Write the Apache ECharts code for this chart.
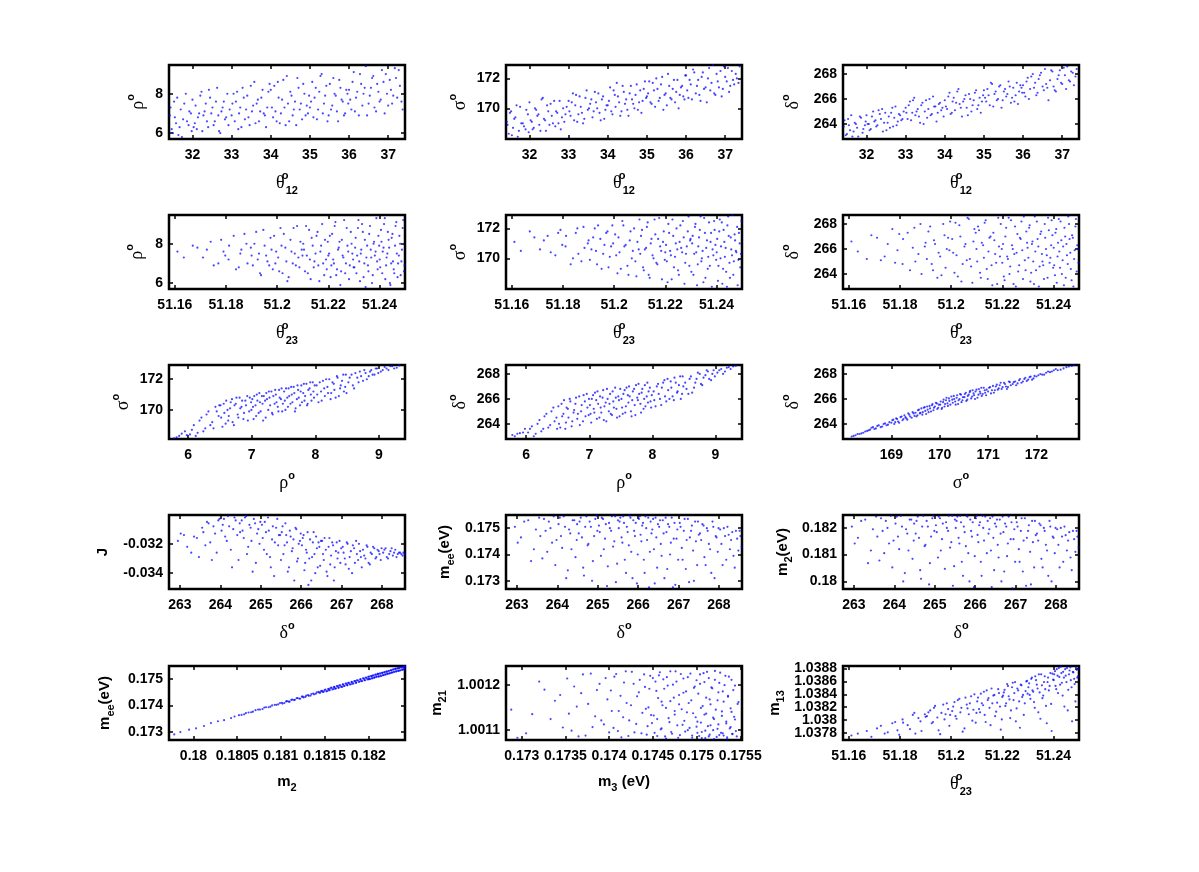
<!DOCTYPE html>
<html>
<head>
<meta charset="utf-8">
<title>Parameter correlations</title>
<script src="https://cdn.jsdelivr.net/npm/echarts@6.0.0/dist/echarts.min.js"></script>
<style>
  html, body { margin: 0; padding: 0; background: #fff; }
  #chart { width: 1199px; height: 872px; }
</style>
</head>
<body>
<div id="chart"></div>
<script>
// ---- theta12 group (row 1), two batches ----
var theta12 = [31.42,31.47,31.53,31.58,31.64,31.7,31.76,31.83,31.9,31.96,
  32.03,32.08,32.14,32.2,32.25,32.31,32.37,32.42,32.48,32.54,32.6,32.66,32.71,32.77,32.83,32.89,32.95,
  33.02,33.08,33.14,33.19,33.25,33.31,33.37,33.43,33.49,33.55,33.61,33.67,33.73,33.79,33.85,33.91,33.97,
  34.03,34.09,34.15,34.2,34.26,34.32,34.38,34.44,34.5,34.56,34.62,34.68,34.74,34.8,34.86,34.92,34.98,
  35.03,35.09,35.15,35.21,35.27,35.33,35.39,35.45,35.51,35.57,35.63,35.69,35.75,35.81,35.87,35.93,35.98,
  36.03,36.09,36.15,36.21,36.28,36.34,36.4,36.46,36.53,36.59,36.65,36.72,36.78,36.84,36.91,36.97,37.04,37.1,37.17,37.23,37.3,37.37];
var rhoA = [6.9,6.2,7.6,6.5,5.9,7.2,6.7,8.0,6.4,7.0,
  6.3,7.4,6.8,7.9,6.1,7.1,6.6,8.2,7.0,6.4,7.6,6.9,6.0,7.3,6.7,8.0,7.2,
  7.5,6.6,8.1,7.0,6.3,7.8,7.2,6.8,8.4,7.4,6.5,7.7,7.1,8.2,6.9,7.3,8.5,
  7.3,8.4,6.6,7.8,7.0,8.7,6.4,7.5,8.1,6.9,7.6,8.8,7.2,6.7,8.0,7.4,7.9,
  7.6,6.8,8.3,7.2,8.9,7.0,7.9,6.6,8.5,7.4,8.0,7.1,8.7,7.7,6.9,8.2,7.5,
  7.7,8.6,7.1,8.1,9.0,7.4,8.3,6.9,7.9,8.8,7.3,8.5,7.6,9.2,7.0,8.0,8.7,7.5,9.3,7.8,8.4,7.2];
var sigmaA = [169.1,168.3,169.8,168.7,169.4,168.1,170.1,169.0,168.6,169.6,
  169.2,168.6,170.0,169.5,168.9,170.6,169.3,168.5,169.8,170.3,169.0,168.8,169.7,170.5,169.4,169.1,170.1,
  169.8,170.4,169.2,170.9,169.6,170.1,169.0,170.7,169.9,170.3,169.4,171.1,170.0,169.7,170.6,169.3,170.2,
  170.5,169.8,171.2,170.1,170.8,169.5,171.5,170.3,169.9,171.0,170.6,170.0,171.6,170.4,169.7,171.3,170.7,
  171.0,170.4,171.7,170.1,171.3,170.7,172.1,170.9,170.2,171.5,170.6,171.9,171.1,170.0,171.4,170.8,172.2,
  171.2,171.9,170.6,172.4,171.5,170.9,172.1,171.3,170.4,172.7,171.7,171.0,172.3,171.4,170.8,172.8,171.8,171.1,172.5,171.6,172.0,172.8];
var deltaA = [263.8,263.1,264.4,263.5,263.0,264.1,263.7,264.6,263.3,263.9,
  264.0,263.5,264.6,264.2,263.8,265.1,264.4,263.4,264.9,264.1,263.7,265.3,264.5,263.9,264.8,264.3,265.0,
  264.9,265.5,264.3,265.9,264.7,265.2,264.1,265.7,265.0,264.5,266.0,264.8,265.4,264.2,265.6,265.1,264.6,
  265.4,266.2,264.8,265.8,265.1,266.6,265.6,264.6,266.0,265.3,266.4,265.0,265.9,266.7,265.5,264.9,266.3,
  266.1,266.8,265.5,267.2,266.4,265.9,267.0,265.3,266.6,266.2,267.4,265.7,266.9,266.3,265.6,267.1,266.5,
  266.5,267.4,266.0,267.8,266.9,266.3,267.6,268.1,266.7,267.2,265.9,268.3,267.0,266.6,267.9,267.3,268.5,266.8,267.5,268.2,267.1,268.4];
var theta12b = [31.44,31.5,31.55,31.61,31.67,31.73,31.79,31.86,31.92,31.98,
  32.0,32.06,32.11,32.17,32.23,32.28,32.34,32.4,32.45,32.51,32.57,32.63,32.68,32.74,32.8,32.86,32.92,
  33.0,33.05,33.11,33.17,33.22,33.28,33.34,33.4,33.46,33.52,33.58,33.64,33.7,33.76,33.82,33.88,33.94,
  34.0,34.06,34.12,34.18,34.23,34.29,34.35,34.41,34.47,34.53,34.59,34.65,34.71,34.77,34.83,34.89,34.95,
  35.0,35.06,35.12,35.18,35.24,35.3,35.36,35.42,35.48,35.54,35.6,35.66,35.72,35.78,35.84,35.9,35.96,
  36.0,36.06,36.12,36.18,36.25,36.31,36.37,36.43,36.5,36.56,36.62,36.69,36.75,36.81,36.88,36.94,37.0,37.07,37.13,37.2,37.27,37.34];
var rhoAb = [7.3,6.0,6.8,7.8,6.3,5.8,7.5,6.6,7.1,6.1,
  7.7,6.5,6.2,7.0,8.1,6.9,7.5,6.3,7.8,7.3,6.6,8.3,6.1,7.1,7.6,6.8,6.4,
  6.9,8.0,7.6,6.2,7.3,8.3,6.7,7.9,6.4,7.1,8.6,7.5,6.6,7.8,7.0,6.3,8.1,
  8.2,6.8,7.1,8.6,6.5,7.7,7.3,8.9,6.6,7.9,7.2,6.4,8.3,7.5,8.5,6.9,7.0,
  7.3,8.6,7.8,6.7,8.1,9.0,7.5,8.4,6.9,7.2,8.8,7.9,6.6,8.3,7.6,7.0,8.0,
  8.2,7.2,9.1,7.8,6.9,8.5,8.0,9.4,7.5,8.3,8.9,7.1,8.1,7.7,8.6,9.0,7.4,8.2,7.9,8.8,9.2,7.6];
var sigmaAb = [168.9,169.7,168.2,169.3,170.2,168.5,169.0,168.8,169.9,168.4,
  170.4,169.1,168.7,169.9,169.6,168.5,170.7,169.2,170.2,168.9,169.5,170.5,169.8,169.0,168.6,170.0,169.6,
  170.5,169.5,171.0,170.2,169.1,170.8,169.7,169.3,171.2,170.0,170.6,169.8,170.4,171.0,169.2,170.8,169.9,
  170.2,171.4,169.6,170.9,171.7,170.4,169.8,171.1,170.6,169.5,171.5,170.3,170.9,169.9,171.2,170.5,171.8,
  170.8,171.8,170.3,171.2,172.0,170.5,171.6,169.9,171.0,172.3,170.7,171.3,170.4,171.9,170.9,171.5,170.6,
  172.2,170.7,171.6,172.6,171.0,171.9,170.5,172.4,171.4,172.0,171.2,172.9,170.9,171.8,172.5,171.3,172.1,172.7,171.5,171.9,172.3,171.7];
var deltaAb = [264.3,263.2,263.9,264.7,263.4,264.0,263.0,264.5,263.6,264.2,
  264.7,264.0,263.6,265.0,264.3,263.9,264.8,265.2,264.1,263.5,264.6,264.9,263.8,265.4,264.2,264.7,264.4,
  265.3,264.4,265.8,264.9,266.1,265.0,264.6,265.5,264.0,265.9,265.2,264.7,266.2,265.4,264.9,265.7,265.3,
  265.9,265.2,266.5,264.9,266.1,265.7,266.8,265.3,265.8,266.3,264.7,266.0,265.5,266.5,265.2,266.1,265.8,
  266.7,265.8,266.3,267.3,265.4,266.6,266.0,267.1,265.9,266.8,266.4,267.0,266.1,265.8,267.3,266.6,266.9,
  267.1,266.2,267.7,266.8,268.0,267.3,266.5,267.9,267.0,268.4,266.9,267.5,268.2,266.7,267.6,268.3,267.2,267.9,268.6,267.4,268.1,267.8];

// ---- theta23 group (row 2 and the m13 panel) ----
var theta23 = [51.161,51.167,
  51.171,51.174,51.177,51.179,
  51.181,51.183,51.185,51.186,51.188,51.19,
  51.1905,51.1918,51.1929,51.1937,51.1951,51.1962,51.1974,51.1983,51.1996,
  51.2004,51.2013,51.2021,51.2032,51.204,51.2052,51.2061,51.2069,51.2078,51.2087,51.2096,
  51.2102,51.2109,51.2116,51.2125,51.2131,51.2139,51.2146,51.2154,51.2161,51.2169,51.2176,51.2184,51.2191,51.2198,
  51.2203,51.2209,51.2215,51.2222,51.2228,51.2234,51.2241,51.2247,51.2253,51.2259,51.2266,51.2272,51.2278,51.2284,51.2291,51.2297,
  51.2302,51.2307,51.2313,51.2318,51.2324,51.2329,51.2335,51.2341,51.2346,51.2352,51.2357,51.2363,51.2368,51.2374,51.2379,51.2385,51.2391,51.2396,
  51.2401,51.2406,51.2411,51.2416,51.2421,51.2426,51.2431,51.2436,51.2441,51.2446,51.2451,51.2456,51.2461,51.2466,51.2471,51.2476,51.2481,51.2486,51.2491,51.2496];
var rhoB = [7.6,7.9,
  7.3,8.1,7.0,7.6,
  7.2,8.4,6.8,7.7,8.0,7.4,
  6.9,8.6,7.5,6.4,7.9,7.1,8.3,6.7,7.6,
  7.3,8.8,6.5,7.8,6.1,8.2,7.0,7.5,8.9,6.8,7.7,
  8.0,6.6,7.4,8.7,6.2,7.9,7.1,8.4,6.9,7.6,9.0,6.4,7.2,8.1,
  7.5,6.3,8.5,7.0,9.1,6.7,7.8,5.9,8.2,7.3,6.5,8.8,7.6,6.9,8.0,7.2,
  6.8,8.3,7.4,9.2,6.1,7.7,8.6,7.0,5.8,7.9,6.6,8.9,7.3,6.4,8.1,7.6,7.1,8.4,
  7.2,8.7,6.5,7.8,9.3,6.9,7.5,8.2,6.0,7.0,8.5,6.7,7.9,9.1,6.3,7.4,8.0,7.1,8.8,6.6];
var sigmaB = [171.1,171.8,
  170.6,171.5,170.2,171.9,
  170.8,169.6,171.7,170.3,172.1,171.2,
  169.9,171.4,170.5,172.2,169.3,170.9,171.8,170.1,171.0,
  171.6,169.0,170.4,172.5,170.8,169.5,171.2,170.0,172.0,168.8,170.6,
  170.3,171.9,169.2,170.7,172.4,168.7,171.3,170.0,171.6,169.6,172.7,170.5,171.1,169.9,
  170.9,168.4,171.7,170.2,172.6,169.4,171.0,170.6,168.9,172.2,170.4,171.4,169.7,170.8,172.8,171.2,
  169.1,171.5,170.3,172.3,168.2,170.8,171.9,169.8,170.5,172.7,168.7,171.2,170.1,169.5,171.7,170.6,172.5,170.9,
  170.4,168.5,171.8,170.0,172.4,169.3,171.1,170.7,168.1,172.8,169.7,171.4,170.2,168.9,171.6,170.5,172.1,169.9,171.0,170.3];
var deltaB = [266.6,265.2,
  266.9,265.4,267.6,265.9,
  264.8,267.3,266.1,265.0,268.0,266.5,
  265.2,267.8,264.3,266.4,265.7,263.9,267.1,266.0,268.2,
  266.8,264.1,265.5,267.9,263.4,266.2,265.1,268.4,264.6,266.6,267.3,
  265.0,267.5,263.7,266.3,268.1,264.4,265.8,267.0,263.1,266.7,264.9,268.5,265.4,266.0,
  266.4,263.5,267.7,265.2,264.0,268.3,266.0,265.6,263.0,267.2,264.7,266.8,265.9,268.6,264.3,266.5,
  265.3,267.9,264.1,266.6,263.2,265.8,268.2,266.2,264.6,267.4,265.0,263.6,266.9,265.5,268.5,264.9,266.3,267.1,
  266.1,263.9,267.6,265.4,268.4,264.5,266.7,265.1,263.1,267.0,266.4,264.8,268.0,265.7,263.5,266.9,265.2,267.8,264.2,266.0];
var m13B = [1.03776,1.03783,
  1.03787,1.03779,1.03795,1.03784,
  1.03801,1.03792,1.03808,1.03779,1.03798,1.03805,
  1.03806,1.03815,1.03797,1.03822,1.03784,1.03811,1.03801,1.03826,1.03808,
  1.03814,1.03828,1.03802,1.03833,1.03819,1.03787,1.03824,1.03809,1.03837,1.03816,1.03796,
  1.03829,1.03817,1.03841,1.03823,1.03808,1.03846,1.03834,1.03792,1.03826,1.03839,1.03813,1.03848,1.03821,1.03801,
  1.03838,1.03847,1.03826,1.03853,1.03832,1.03815,1.03858,1.03842,1.03798,1.03849,1.03829,1.03855,1.03836,1.03808,1.03845,1.03861,
  1.03851,1.03839,1.03864,1.03846,1.03828,1.03868,1.03855,1.03812,1.03843,1.03871,1.03834,1.03859,1.03848,1.03795,1.03866,1.03853,1.03825,1.03872,
  1.03862,1.03876,1.03848,1.03869,1.03881,1.03855,1.03873,1.03838,1.03866,1.03879,1.03859,1.03815,1.03871,1.03882,1.03851,1.03875,1.03864,1.03829,1.03878,1.03868];
var theta23b = [51.1635,51.1688,
  51.1725,51.1752,51.1781,51.1797,
  51.1812,51.1839,51.1856,51.1872,51.1884,51.1897,
  51.1911,51.1924,51.1933,51.1946,51.1957,51.1969,51.1978,51.1988,51.1993,
  51.2008,51.2017,51.2026,51.2036,51.2045,51.2056,51.2064,51.2073,51.2083,51.2091,51.2099,
  51.2105,51.2113,51.212,51.2128,51.2135,51.2143,51.215,51.2158,51.2165,51.2172,51.218,51.2187,51.2194,51.22,
  51.2206,51.2212,51.2219,51.2225,51.2231,51.2238,51.2244,51.225,51.2256,51.2262,51.2269,51.2275,51.2281,51.2288,51.2294,51.2299,
  51.2305,51.231,51.2316,51.2321,51.2327,51.2332,51.2338,51.2343,51.2349,51.2355,51.236,51.2366,51.2371,51.2377,51.2382,51.2388,51.2393,51.2399,
  51.2403,51.2408,51.2413,51.2418,51.2423,51.2428,51.2433,51.2438,51.2443,51.2448,51.2453,51.2458,51.2463,51.2468,51.2473,51.2478,51.2483,51.2488,51.2493,51.2498];
var rhoBb = [7.3,7.8,
  7.7,6.9,8.2,7.4,
  7.9,6.7,7.5,8.5,7.0,7.8,
  8.0,7.2,6.5,8.7,7.4,6.9,7.7,8.4,7.0,
  6.6,7.9,8.5,7.1,6.3,7.6,8.8,6.9,7.3,8.1,7.4,
  7.7,8.9,6.5,7.2,8.3,6.8,7.5,8.6,6.1,7.9,7.0,8.2,6.7,7.4,
  8.4,6.9,7.2,8.9,6.4,7.7,8.1,6.6,7.4,9.2,7.0,7.9,6.2,8.6,7.5,6.8,
  7.8,6.5,8.8,7.1,7.5,9.0,6.3,8.2,7.3,6.9,8.5,7.7,6.0,8.0,7.4,9.3,6.7,7.9,
  6.8,8.1,7.6,9.0,6.2,7.3,8.6,7.8,5.9,8.3,7.1,6.5,8.9,7.5,7.0,8.4,6.4,7.7,9.2,6.9];
var sigmaBb = [170.5,171.4,
  171.2,170.4,171.7,170.9,
  171.5,170.0,172.0,169.8,170.7,171.0,
  170.6,172.0,169.6,171.3,170.3,171.7,169.4,170.8,172.2,
  170.2,171.4,169.3,172.2,170.9,168.9,171.8,170.5,169.8,171.1,172.6,
  171.5,169.4,170.6,172.1,168.9,171.0,170.2,172.6,169.7,171.3,170.8,168.6,171.8,170.4,
  169.8,172.3,170.5,168.6,171.5,170.1,172.0,169.2,171.1,170.7,172.5,168.3,170.3,171.8,169.5,171.3,
  171.0,168.9,172.1,170.4,169.6,171.4,172.8,170.0,168.4,171.7,170.7,169.3,172.4,171.1,168.1,170.2,171.9,169.9,
  171.3,169.5,172.6,170.8,168.3,171.9,170.1,169.1,172.2,171.5,168.7,170.6,172.9,169.8,171.2,170.4,168.2,171.7,169.4,172.5];
var deltaBb = [265.8,267.1,
  265.1,266.4,264.9,267.2,
  266.8,264.3,267.7,265.6,264.0,266.2,
  267.4,264.8,266.7,263.7,265.4,268.0,264.5,266.9,265.9,
  265.7,268.1,263.8,267.0,264.8,266.4,268.5,265.2,263.3,267.6,266.0,
  267.8,264.1,266.5,265.3,268.3,263.6,266.9,264.7,267.3,265.6,263.2,266.2,268.0,264.9,
  263.8,267.0,265.4,268.5,264.6,266.3,263.2,267.8,265.7,264.2,266.9,268.2,263.6,265.1,267.4,266.1,
  267.7,263.4,266.4,265.0,268.6,264.3,266.8,263.0,267.2,265.6,264.7,268.0,266.0,263.7,267.5,265.3,268.3,264.5,
  264.7,267.3,263.3,266.5,265.8,268.2,264.0,266.2,267.7,263.7,265.5,268.6,266.8,264.4,267.1,263.0,265.9,268.4,266.3,264.9];
var m13Bb = [1.03779,1.03774,
  1.03791,1.03781,1.03797,1.03777,
  1.03796,1.03786,1.03811,1.03803,1.03783,1.03809,
  1.03812,1.03795,1.03819,1.03804,1.03778,1.03824,1.03809,1.03817,1.03791,
  1.03821,1.03806,1.03831,1.03812,1.03782,1.03835,1.03818,1.03826,1.03799,1.0384,1.03811,
  1.03835,1.03812,1.03826,1.03844,1.03797,1.03831,1.03819,1.03849,1.03838,1.03806,1.03827,1.03842,1.03785,1.03836,
  1.03843,1.03822,1.03856,1.03837,1.03803,1.03851,1.03831,1.03859,1.03818,1.03846,1.03788,1.03854,1.03839,1.03826,1.0386,1.03841,
  1.03857,1.03833,1.03866,1.03844,1.03819,1.03862,1.03849,1.03871,1.03802,1.03854,1.03838,1.03868,1.03822,1.03859,1.03846,1.03873,1.03783,1.03863,
  1.03871,1.03853,1.03879,1.03842,1.03867,1.03883,1.03858,1.03875,1.03821,1.03869,1.03881,1.03847,1.03877,1.03862,1.03798,1.03874,1.03856,1.03882,1.03866,1.03879];

// ---- rho group (row 3, first two panels) ----
var rhoD = [5.78,5.86,5.95,
  6.03,6.09,6.15,6.21,6.27,6.32,6.38,6.43,6.48,
  6.51,6.54,6.57,6.6,6.63,6.66,6.69,6.72,6.75,6.78,6.81,6.84,6.87,6.9,6.93,6.96,6.99,
  7.01,7.03,7.06,7.08,7.11,7.13,7.16,7.18,7.21,7.23,7.26,7.28,7.31,7.33,7.36,7.38,7.41,7.43,7.46,7.48,
  7.51,7.53,7.56,7.58,7.61,7.63,7.66,7.68,7.71,7.73,7.76,7.78,7.81,7.83,7.86,7.88,7.91,7.93,7.96,7.98,
  8.02,8.05,8.09,8.12,8.15,8.19,8.22,8.25,8.29,8.32,8.35,8.39,8.42,8.45,8.48,
  8.52,8.57,8.61,8.66,8.7,8.75,8.79,8.84,8.88,8.93,8.97,
  9.03,9.09,9.15,9.21,9.28];
var sigmaD = [168.15,168.3,168.6,
  168.4,169.0,168.5,169.5,168.8,169.9,169.2,170.2,169.6,
  170.3,168.9,169.8,170.6,169.3,170.1,170.7,169.0,170.4,169.7,170.8,170.2,169.4,170.6,170.9,169.9,170.5,
  170.7,169.4,170.3,171.0,169.8,170.5,170.9,169.3,170.6,171.1,170.0,170.8,171.2,169.7,170.4,171.0,170.2,171.3,170.7,169.9,
  171.2,170.0,170.8,171.4,170.4,171.0,171.5,169.9,170.7,171.3,170.3,171.6,171.1,170.6,171.7,170.4,171.4,171.0,171.8,170.8,
  171.6,170.5,171.2,171.9,170.9,171.5,172.0,171.1,171.7,170.8,172.1,171.4,171.9,171.2,172.3,
  171.8,172.3,171.4,172.1,172.5,171.9,172.4,172.2,172.6,172.3,172.7,
  172.5,172.8,172.6,172.85,172.75];
var deltaD = [263.1,263.2,263.3,
  263.3,263.8,263.2,264.3,263.6,264.8,263.9,265.3,264.5,
  265.4,263.7,264.6,265.9,264.1,265.2,266.0,263.8,264.9,265.6,264.4,266.2,265.0,264.2,265.8,266.4,264.7,
  265.5,264.1,266.3,264.9,265.9,266.6,264.5,265.3,266.1,264.3,265.7,266.8,265.0,266.4,264.7,265.8,266.9,265.2,266.2,264.6,
  266.0,264.8,266.7,265.4,266.3,267.0,265.0,265.9,266.8,264.7,266.1,267.2,265.6,266.5,265.2,267.1,266.2,265.7,266.9,265.3,
  266.6,265.4,267.2,266.0,266.9,267.5,265.8,266.7,267.4,266.2,267.7,266.5,267.1,266.0,267.8,
  267.3,266.4,267.8,266.9,267.6,268.0,267.1,267.9,268.2,267.5,268.3,
  268.1,268.4,268.2,268.55,268.6];
var rhoDb = [5.82,5.9,5.98,
  6.06,6.12,6.18,6.24,6.29,6.35,6.4,6.45,6.49,
  6.52,6.56,6.59,6.62,6.64,6.67,6.7,6.73,6.76,6.79,6.82,6.85,6.88,6.91,6.94,6.97,6.995,
  7.02,7.04,7.07,7.09,7.12,7.14,7.17,7.19,7.22,7.24,7.27,7.29,7.32,7.34,7.37,7.39,7.42,7.44,7.47,7.49,
  7.52,7.54,7.57,7.59,7.62,7.64,7.67,7.69,7.72,7.74,7.77,7.79,7.82,7.84,7.87,7.89,7.92,7.94,7.97,7.99,
  8.03,8.07,8.1,8.14,8.17,8.2,8.24,8.27,8.3,8.34,8.37,8.4,8.44,8.47,8.49,
  8.54,8.59,8.63,8.68,8.72,8.77,8.81,8.86,8.9,8.95,8.99,
  9.06,9.12,9.18,9.24,9.32];
var sigmaDb = [168.2,168.45,168.35,
  168.7,168.3,169.3,168.6,169.7,169.0,168.8,169.9,170.3,
  169.5,170.4,169.1,170.0,169.6,170.5,169.2,170.3,170.8,169.5,170.1,170.6,169.8,170.3,169.3,170.8,170.0,
  170.2,170.9,169.6,170.6,171.1,169.9,170.4,170.9,169.5,170.7,171.2,170.3,169.8,170.9,171.3,170.5,169.9,170.8,171.4,170.4,
  170.6,171.4,170.2,170.9,171.5,170.5,171.1,170.1,171.6,170.8,171.2,170.5,171.7,170.9,170.3,171.3,171.8,170.6,171.2,171.6,
  171.0,171.8,170.6,171.4,172.0,171.1,170.7,171.8,171.3,172.2,170.9,171.6,172.3,171.5,171.1,
  172.1,171.6,172.4,171.8,172.2,172.6,172.0,172.5,172.3,172.7,172.4,
  172.6,172.7,172.85,172.7,172.9];
var deltaDb = [263.0,263.25,263.6,
  263.6,263.0,264.0,263.4,264.6,263.7,265.0,264.2,263.6,
  264.0,265.6,264.8,263.6,265.3,264.5,265.8,264.2,265.1,266.1,264.8,263.9,265.5,266.3,264.6,265.3,266.0,
  264.8,266.0,265.2,266.5,264.4,265.6,266.2,264.9,266.7,265.4,264.2,266.0,265.6,264.8,266.6,265.3,266.1,264.5,265.9,266.8,
  265.3,266.4,264.9,266.9,265.7,266.2,264.6,266.6,265.5,267.1,265.9,266.4,264.9,266.8,266.0,265.4,267.3,266.6,265.8,266.3,
  265.9,267.0,266.4,265.5,267.3,266.2,267.6,266.0,266.9,265.9,267.3,266.6,267.8,266.4,267.0,
  266.8,267.6,266.5,267.3,268.1,267.2,267.7,268.3,267.6,268.0,267.8,
  268.3,268.0,268.5,268.4,268.65];

// ---- sigma vs delta (row 3, third panel) ----
var sigmaE = [168.22,168.3,168.38,168.46,
  168.53,168.59,168.65,168.71,168.78,168.84,168.9,168.96,
  169.02,169.06,169.1,169.14,169.19,169.23,169.27,169.31,169.35,169.39,169.44,169.48,
  169.52,169.55,169.59,169.62,169.65,169.69,169.72,169.75,169.79,169.82,169.85,169.88,169.92,169.95,169.98,
  170.02,170.05,170.08,170.11,170.14,170.17,170.2,170.24,170.27,170.3,170.33,170.36,170.39,170.42,170.45,170.48,
  170.52,170.55,170.58,170.62,170.65,170.68,170.71,170.74,170.78,170.81,170.84,170.87,170.91,170.94,170.97,
  171.02,171.06,171.1,171.14,171.18,171.22,171.26,171.3,171.35,171.39,171.43,171.47,
  171.53,171.58,171.64,171.69,171.75,171.8,171.86,171.91,171.96,
  172.04,172.12,172.2,172.28,172.36,172.44,
  172.56,172.67,172.78];
var deltaE = [263.05,263.2,263.25,263.4,
  263.5,263.7,263.6,263.85,263.75,264.0,263.9,264.15,
  264.3,264.0,264.45,264.2,264.55,264.3,264.7,264.45,264.85,264.6,264.95,264.65,
  264.6,265.1,264.85,265.25,264.95,265.35,264.8,265.15,265.45,265.0,265.6,265.3,265.7,265.2,265.55,
  265.8,265.3,265.95,265.6,266.1,265.45,265.85,266.2,265.7,266.0,265.55,266.3,265.9,266.4,265.75,266.15,
  266.4,265.85,266.25,266.55,266.05,266.7,266.3,266.6,266.1,266.8,266.45,266.25,266.9,266.5,266.75,
  266.9,266.45,267.05,266.7,267.15,266.85,267.3,266.95,267.2,266.8,267.4,267.1,
  267.35,267.1,267.5,267.3,267.6,267.45,267.75,267.55,267.85,
  267.9,267.95,268.1,268.15,268.3,268.3,
  268.45,268.6,268.7];
var sigmaEb = [168.18,168.26,168.34,168.42,
  168.5,168.56,168.62,168.68,168.74,168.81,168.87,168.93,
  169.0,169.04,169.08,169.12,169.16,169.21,169.25,169.29,169.33,169.37,169.42,169.46,
  169.5,169.54,169.57,169.6,169.64,169.67,169.7,169.74,169.77,169.8,169.84,169.87,169.9,169.94,169.97,
  170.01,170.04,170.07,170.1,170.13,170.16,170.19,170.22,170.26,170.29,170.32,170.35,170.38,170.41,170.44,170.47,
  170.51,170.54,170.57,170.6,170.63,170.67,170.7,170.73,170.76,170.8,170.83,170.86,170.89,170.93,170.96,
  171.0,171.04,171.08,171.12,171.16,171.2,171.24,171.28,171.33,171.37,171.41,171.45,
  171.51,171.56,171.61,171.66,171.72,171.77,171.83,171.88,171.94,
  172.0,172.08,172.16,172.24,172.32,172.4,
  172.5,172.62,172.73];
var deltaEb = [263.0,263.1,263.2,263.3,
  263.45,263.55,263.75,263.65,263.9,263.8,264.05,263.95,
  264.1,264.35,264.15,264.4,264.1,264.6,264.4,264.55,264.35,264.75,264.5,264.85,
  264.9,264.7,265.15,264.9,264.75,265.3,265.05,265.4,264.95,265.25,265.5,265.1,265.4,265.65,265.3,
  265.55,265.2,265.75,265.4,265.9,265.65,266.05,265.55,265.95,266.25,265.8,266.1,265.6,266.0,266.35,265.9,
  266.15,266.5,265.95,266.35,266.65,266.2,266.45,266.0,266.75,266.35,266.6,266.9,266.4,266.7,266.3,
  266.6,266.95,266.7,266.5,267.0,266.75,267.1,266.8,267.3,267.0,266.95,267.35,
  267.2,267.4,267.25,267.6,267.4,267.7,267.55,267.8,267.65,
  267.8,268.0,267.95,268.2,268.2,268.4,
  268.35,268.55,268.65];

// ---- delta group (row 4) ----
var deltaC = [262.95,263.1,263.28,263.42,
  263.55,263.63,263.71,263.79,263.87,263.95,
  264.03,264.09,264.16,264.22,264.29,264.35,264.42,264.48,
  264.53,264.58,264.64,264.69,264.75,264.8,264.86,264.91,264.97,
  265.03,265.08,265.13,265.18,265.23,265.28,265.33,265.38,265.43,265.48,
  265.52,265.56,265.61,265.65,265.7,265.74,265.79,265.83,265.88,265.92,265.97,
  266.02,266.06,266.1,266.14,266.18,266.22,266.27,266.31,266.35,266.39,266.43,266.47,
  266.52,266.56,266.61,266.65,266.7,266.74,266.79,266.83,266.88,266.92,266.97,
  267.03,267.08,267.13,267.18,267.23,267.28,267.33,267.38,267.43,267.48,
  267.53,267.59,267.64,267.7,267.75,267.81,267.86,267.92,267.97,
  268.03,268.09,268.15,268.21,268.27,268.33,268.39,268.45,268.51,268.56];
var jC = [-0.0318,-0.0314,-0.0326,-0.0316,
  -0.0309,-0.0321,-0.0306,-0.0331,-0.0313,-0.0304,
  -0.0311,-0.0303,-0.0318,-0.0308,-0.0336,-0.0302,-0.0314,-0.0306,
  -0.0304,-0.0316,-0.0301,-0.0322,-0.0309,-0.0339,-0.0306,-0.0313,-0.032,
  -0.0307,-0.0324,-0.0312,-0.0302,-0.0329,-0.0317,-0.0342,-0.0309,-0.0321,-0.0314,
  -0.0312,-0.0327,-0.0306,-0.0319,-0.0336,-0.0315,-0.0323,-0.0345,-0.031,-0.033,-0.0318,
  -0.0321,-0.0314,-0.0333,-0.0326,-0.0348,-0.0317,-0.0329,-0.0312,-0.034,-0.0323,-0.0319,-0.0335,
  -0.0318,-0.0331,-0.0324,-0.0342,-0.0316,-0.0328,-0.0321,-0.0336,-0.0319,-0.0326,-0.0333,
  -0.0322,-0.033,-0.0319,-0.0337,-0.0325,-0.0321,-0.0333,-0.0327,-0.032,-0.0329,
  -0.0324,-0.033,-0.0322,-0.0334,-0.0327,-0.0323,-0.0329,-0.0325,-0.0331,
  -0.0326,-0.0323,-0.033,-0.0325,-0.0328,-0.0324,-0.0327,-0.0326,-0.0328,-0.0327];
var meeC = [0.17505,0.17465,0.1753,0.1742,
  0.1754,0.17385,0.1749,0.17525,0.17445,0.1736,
  0.17515,0.1747,0.17545,0.1731,0.17495,0.1742,0.1753,0.17455,
  0.1748,0.1754,0.1735,0.17505,0.17435,0.17525,0.173,0.1747,0.17548,
  0.1751,0.17395,0.17535,0.1746,0.1728,0.1752,0.1749,0.1743,0.17545,0.17365,
  0.175,0.1754,0.17445,0.1752,0.1733,0.17485,0.17548,0.1741,0.1753,0.1747,0.1729,
  0.17535,0.17475,0.1751,0.1738,0.17545,0.17455,0.17275,0.17525,0.17495,0.1742,0.1754,0.1735,
  0.17505,0.1744,0.1753,0.1731,0.17485,0.17515,0.174,0.1754,0.1746,0.17285,0.17495,
  0.1752,0.17425,0.1749,0.17345,0.17535,0.17465,0.1751,0.173,0.1745,0.17525,
  0.1748,0.17515,0.1739,0.175,0.1744,0.1733,0.17505,0.1747,0.1741,
  0.17495,0.1736,0.1747,0.17505,0.1742,0.17485,0.1735,0.1746,0.1749,0.1743];
var m2C = [0.18204,0.18162,0.1823,0.18115,
  0.18241,0.18078,0.18188,0.18225,0.18141,0.18052,
  0.18215,0.18167,0.18244,0.18,0.18194,0.18115,0.1823,0.18152,
  0.18178,0.18241,0.18042,0.18204,0.18131,0.18225,0.17989,0.18167,0.18244,
  0.18209,0.18089,0.18235,0.18157,0.17968,0.1822,0.18188,0.18126,0.18244,0.18057,
  0.18199,0.18241,0.18141,0.1822,0.18021,0.18183,0.18244,0.18105,0.1823,0.18167,0.17979,
  0.18235,0.18173,0.18209,0.18073,0.18244,0.18152,0.17963,0.18225,0.18194,0.18115,0.18241,0.18042,
  0.18204,0.18136,0.1823,0.18,0.18183,0.18215,0.18094,0.18241,0.18157,0.17974,0.18194,
  0.1822,0.1812,0.18188,0.18037,0.18235,0.18162,0.18209,0.17989,0.18146,0.18225,
  0.18178,0.18215,0.18084,0.18199,0.18136,0.18021,0.18204,0.18167,0.18105,
  0.18194,0.18052,0.18167,0.18204,0.18115,0.18183,0.18042,0.18157,0.18188,0.18126];
var deltaCb = [263.02,263.18,263.35,263.47,
  263.58,263.67,263.75,263.83,263.91,263.98,
  264.06,264.12,264.19,264.26,264.32,264.38,264.45,264.49,
  264.55,264.61,264.66,264.72,264.77,264.83,264.88,264.94,264.99,
  265.05,265.1,265.15,265.2,265.25,265.3,265.35,265.41,265.45,265.5,
  265.54,265.59,265.63,265.67,265.72,265.77,265.81,265.86,265.9,265.94,265.99,
  266.04,266.08,266.12,266.16,266.2,266.25,266.29,266.33,266.37,266.41,266.45,266.49,
  266.54,266.58,266.63,266.68,266.72,266.77,266.81,266.86,266.9,266.95,266.99,
  267.05,267.1,267.15,267.2,267.26,267.31,267.36,267.41,267.46,267.5,
  267.56,267.62,267.67,267.72,267.78,267.84,267.89,267.94,267.99,
  268.06,268.12,268.18,268.24,268.3,268.36,268.42,268.48,268.53,268.58];
var jCb = [-0.0313,-0.0322,-0.0315,-0.0329,
  -0.0312,-0.0305,-0.0319,-0.0308,-0.0326,-0.0303,
  -0.0307,-0.0315,-0.0301,-0.0324,-0.031,-0.0304,-0.0331,-0.0312,
  -0.0311,-0.0302,-0.0327,-0.0307,-0.0318,-0.0303,-0.0333,-0.031,-0.0305,
  -0.0316,-0.0305,-0.0327,-0.0311,-0.0336,-0.0308,-0.0319,-0.0303,-0.0314,-0.0331,
  -0.0308,-0.0321,-0.0314,-0.0339,-0.0311,-0.0325,-0.0317,-0.0309,-0.0332,-0.032,-0.0313,
  -0.0316,-0.0338,-0.0324,-0.0312,-0.033,-0.0345,-0.0319,-0.0327,-0.0315,-0.0336,-0.0322,-0.0318,
  -0.0327,-0.0316,-0.0339,-0.0322,-0.0334,-0.0319,-0.0345,-0.0325,-0.033,-0.0318,-0.0323,
  -0.0326,-0.0334,-0.032,-0.0329,-0.034,-0.0323,-0.0318,-0.0331,-0.0325,-0.0336,
  -0.0328,-0.0321,-0.0333,-0.0326,-0.0322,-0.033,-0.0324,-0.0327,-0.0323,
  -0.0324,-0.0329,-0.0327,-0.0323,-0.0326,-0.0329,-0.0326,-0.0327,-0.0326,-0.0327];
var meeCb = [0.17445,0.17525,0.17375,0.17495,
  0.1747,0.17535,0.1741,0.175,0.17545,0.17455,
  0.1754,0.17425,0.17505,0.1734,0.1748,0.1753,0.1739,0.17515,
  0.17525,0.17465,0.1732,0.17545,0.1744,0.17505,0.17375,0.17535,0.1749,
  0.17485,0.1754,0.1742,0.17515,0.17355,0.175,0.17545,0.1745,0.17295,0.1753,
  0.17525,0.17465,0.17545,0.1738,0.17505,0.17435,0.1754,0.1731,0.1749,0.1752,0.174,
  0.17545,0.1745,0.1752,0.1733,0.175,0.1754,0.1741,0.1748,0.17535,0.1729,0.17465,0.17515,
  0.1753,0.17395,0.1748,0.1754,0.17345,0.17505,0.17445,0.17275,0.1752,0.1746,0.1738,
  0.17505,0.1738,0.17535,0.17455,0.17295,0.1749,0.17415,0.17525,0.1736,0.17475,
  0.17455,0.1751,0.1736,0.1749,0.1742,0.17525,0.1731,0.17465,0.175,
  0.1744,0.175,0.1738,0.17475,0.17455,0.17395,0.1749,0.17415,0.1747,0.17445];
var m2Cb = [0.18141,0.18225,0.18068,0.18194,
  0.18167,0.18235,0.18105,0.18199,0.18244,0.18152,
  0.18241,0.1812,0.18204,0.18031,0.18178,0.1823,0.18084,0.18215,
  0.18225,0.18162,0.1801,0.18244,0.18136,0.18204,0.18068,0.18235,0.18188,
  0.18183,0.18241,0.18115,0.18215,0.18047,0.18199,0.18244,0.18146,0.17984,0.1823,
  0.18225,0.18162,0.18244,0.18073,0.18204,0.18131,0.18241,0.18,0.18188,0.1822,0.18094,
  0.18244,0.18146,0.1822,0.18021,0.18199,0.18241,0.18105,0.18178,0.18235,0.17979,0.18162,0.18215,
  0.1823,0.18089,0.18178,0.18241,0.18037,0.18204,0.18141,0.17963,0.1822,0.18157,0.18073,
  0.18204,0.18073,0.18235,0.18152,0.17984,0.18188,0.1811,0.18225,0.18052,0.18172,
  0.18152,0.18209,0.18052,0.18188,0.18115,0.18225,0.18,0.18162,0.18199,
  0.18136,0.18199,0.18073,0.18172,0.18152,0.18089,0.18188,0.1811,0.18167,0.18141];

// ---- m2 vs mee (row 5, first panel) ----
var m2F = [0.17978,0.17995,0.18012,0.18028,0.18043,
  0.18052,0.18058,0.18063,0.18068,0.18074,0.18079,0.18083,0.18088,0.18093,0.18097,
  0.18101,0.18104,0.18107,0.1811,0.18113,0.18116,0.18119,0.18122,0.18125,0.18128,0.18131,0.18134,0.18137,0.1814,0.18143,0.18145,0.18147,0.18149,
  0.18151,0.18153,0.18155,0.18156,0.18158,0.1816,0.18161,0.18163,0.18165,0.18166,0.18168,0.1817,0.18171,0.18173,0.18175,
  0.18176,0.18178,0.1818,0.18181,0.18183,0.18185,0.18186,0.18188,0.1819,0.18191,0.18193,0.18195,0.18196,0.18198,0.182,
  0.18201,0.18202,0.18204,0.18205,0.18206,0.18207,0.18209,0.1821,0.18211,0.18212,0.18214,0.18215,0.18216,0.18217,0.18219,
  0.1822,0.18221,0.18222,0.18224,0.18225,0.18226,0.18227,0.18229,0.1823,0.18231,0.18232,0.18234,0.18235,0.18236,0.18237,
  0.18238,0.18239,0.1824,0.18241,0.18242,0.18243,0.18244];
var meeF = [0.1729,0.17308,0.17322,0.1734,0.17352,
  0.17363,0.17366,0.17373,0.17376,0.17384,0.17386,0.17393,0.17395,0.17402,0.17404,
  0.1741,0.17409,0.17416,0.17414,0.17422,0.17421,0.17428,0.17425,0.17433,0.17432,0.17439,0.17437,0.17445,0.17444,0.17451,0.17448,0.17455,0.17452,
  0.1746,0.17454,0.17463,0.17458,0.17467,0.17462,0.17469,0.17464,0.17473,0.17467,0.17476,0.1747,0.17479,0.17474,0.17482,
  0.17477,0.17485,0.1748,0.17488,0.17483,0.17492,0.17486,0.17495,0.1749,0.17498,0.17492,0.17501,0.17495,0.17504,0.17499,
  0.17509,0.175,0.17511,0.17503,0.17514,0.17506,0.17516,0.17509,0.17519,0.1751,0.17521,0.17512,0.17523,0.17515,0.17526,
  0.17517,0.17528,0.1752,0.17531,0.17522,0.17533,0.17524,0.17536,0.17527,0.17538,0.17529,0.1754,0.17531,0.17542,0.17533,
  0.17544,0.17535,0.17546,0.17537,0.17547,0.17539,0.17546];
var m2Fb = [0.17985,0.18003,0.1802,0.18035,0.18047,
  0.18055,0.1806,0.18066,0.18071,0.18076,0.18081,0.18086,0.1809,0.18095,0.18099,
  0.18102,0.18106,0.18109,0.18112,0.18115,0.18118,0.18121,0.18124,0.18126,0.18129,0.18132,0.18135,0.18138,0.18141,0.18144,0.18146,0.18148,0.1815,
  0.18152,0.18154,0.18155,0.18157,0.18159,0.18161,0.18162,0.18164,0.18166,0.18167,0.18169,0.18171,0.18172,0.18174,0.18176,
  0.18177,0.18179,0.18181,0.18182,0.18184,0.18186,0.18187,0.18189,0.18191,0.18192,0.18194,0.18196,0.18197,0.18199,0.182,
  0.18201,0.18203,0.18204,0.18205,0.18207,0.18208,0.18209,0.18211,0.18212,0.18213,0.18214,0.18216,0.18217,0.18218,0.18219,
  0.18221,0.18222,0.18223,0.18224,0.18226,0.18227,0.18228,0.18229,0.18231,0.18232,0.18233,0.18234,0.18235,0.18236,0.18238,
  0.18239,0.1824,0.18241,0.18242,0.18243,0.18244,0.18245];
var meeFb = [0.17299,0.17313,0.17333,0.17344,0.17358,
  0.17364,0.17371,0.17374,0.17382,0.17384,0.17392,0.17393,0.174,0.17402,0.17409,
  0.17407,0.17415,0.17414,0.17421,0.1742,0.17427,0.17426,0.17433,0.1743,0.17437,0.17436,0.17443,0.17442,0.17449,0.17448,0.17454,0.17451,0.17458,
  0.17453,0.17462,0.17457,0.17466,0.1746,0.1747,0.17463,0.17473,0.17467,0.17476,0.1747,0.1748,0.17473,0.17482,0.17476,
  0.17485,0.17479,0.17489,0.17482,0.17492,0.17486,0.17495,0.17489,0.17499,0.17492,0.17502,0.17495,0.17505,0.17498,0.17508,
  0.17499,0.17511,0.17502,0.17513,0.17505,0.17516,0.17507,0.17519,0.17509,0.1752,0.17511,0.17523,0.17514,0.17525,0.17516,
  0.17528,0.17519,0.1753,0.17521,0.17533,0.17524,0.17535,0.17526,0.17538,0.17529,0.1754,0.1753,0.17541,0.17532,0.17544,
  0.17535,0.17546,0.17537,0.17547,0.17539,0.17548,0.1754];

// ---- m3 vs m21 (row 5, second panel) ----
var m3G = [0.17295,0.17312,0.17326,0.17338,0.17347,
  0.17352,0.17357,0.17363,0.17368,0.17373,0.17379,0.17384,0.17389,0.17394,0.17398,
  0.17402,0.17405,0.17408,0.17411,0.17414,0.17417,0.1742,0.17423,0.17426,0.17429,0.17432,0.17435,0.17438,0.17441,0.17443,0.17445,0.17447,0.17449,
  0.17451,0.17453,0.17455,0.17456,0.17458,0.1746,0.17461,0.17463,0.17465,0.17466,0.17468,0.1747,0.17471,0.17473,0.17475,
  0.17476,0.17478,0.1748,0.17481,0.17483,0.17485,0.17486,0.17488,0.1749,0.17491,0.17493,0.17495,0.17496,0.17498,0.175,
  0.17501,0.17502,0.17504,0.17505,0.17506,0.17507,0.17509,0.1751,0.17511,0.17512,0.17514,0.17515,0.17516,0.17517,0.17519,
  0.1752,0.17521,0.17522,0.17524,0.17525,0.17526,0.17527,0.17529,0.1753,0.17531,0.17532,0.17534,0.17535,0.17536,0.17537,
  0.17539,0.1754,0.17541,0.17542,0.17544,0.17545,0.17547];
var m21G = [1.001082,1.001135,1.00119,1.001165,1.001105,
  1.001215,1.001098,1.001152,1.001182,1.001087,1.001226,1.00113,1.001203,1.001112,1.001168,
  1.001188,1.001104,1.001225,1.001142,1.001083,1.001206,1.00116,1.001121,1.00123,1.001094,1.001175,1.001212,1.001138,1.001196,1.001089,1.00115,1.001221,1.001115,
  1.001132,1.001208,1.001086,1.001171,1.001229,1.001103,1.001155,1.001192,1.00108,1.001218,1.001126,1.001164,1.001095,1.001201,1.001142,
  1.001231,1.00111,1.001178,1.001088,1.001146,1.001215,1.00112,1.001186,1.001099,1.00116,1.001226,1.001082,1.001137,1.001197,1.001107,
  1.001093,1.001181,1.001224,1.001116,1.001081,1.001153,1.001207,1.001098,1.001136,1.00123,1.001085,1.001168,1.00111,1.001195,1.001127,
  1.001079,1.001212,1.001145,1.001102,1.001184,1.001088,1.001228,1.001131,1.001092,1.001163,1.0012,1.001114,1.001083,1.001174,1.001219,
  1.001106,1.00114,1.00109,1.001189,1.001123,1.001097,1.001158];
var m3Gb = [0.17288,0.17305,0.1732,0.17333,0.17344,
  0.17354,0.1736,0.17365,0.1737,0.17376,0.17381,0.17386,0.17391,0.17396,0.174,
  0.17403,0.17406,0.1741,0.17413,0.17416,0.17419,0.17422,0.17425,0.17428,0.17431,0.17434,0.17437,0.1744,0.17442,0.17444,0.17446,0.17448,0.1745,
  0.17452,0.17454,0.17455,0.17457,0.17459,0.1746,0.17462,0.17464,0.17465,0.17467,0.17469,0.1747,0.17472,0.17474,0.17475,
  0.17477,0.17479,0.1748,0.17482,0.17484,0.17485,0.17487,0.17489,0.1749,0.17492,0.17494,0.17495,0.17497,0.17499,0.175,
  0.17501,0.17503,0.17504,0.17505,0.17506,0.17508,0.17509,0.1751,0.17511,0.17513,0.17514,0.17515,0.17516,0.17518,0.17519,
  0.1752,0.17521,0.17523,0.17524,0.17525,0.17526,0.17528,0.17529,0.1753,0.17531,0.17533,0.17534,0.17535,0.17536,0.17538,
  0.17539,0.1754,0.17541,0.17543,0.17544,0.17546,0.17548];
var m21Gb = [1.001145,1.001092,1.001208,1.001124,1.001178,
  1.001136,1.001197,1.001085,1.001224,1.001158,1.001106,1.001189,1.001121,1.001216,1.001094,
  1.001142,1.001219,1.001097,1.001176,1.001128,1.001231,1.001086,1.001155,1.001203,1.001113,1.001184,1.001092,1.001224,1.001147,1.001108,1.001192,1.001133,1.001216,
  1.001093,1.001187,1.001124,1.001222,1.001101,1.001163,1.001213,1.001085,1.001149,1.001199,1.001117,1.001231,1.001091,1.001172,1.001134,
  1.001208,1.001082,1.001157,1.001225,1.001111,1.001183,1.001096,1.001139,1.001218,1.001104,1.001166,1.001087,1.001194,1.001128,1.001211,
  1.001118,1.001086,1.001203,1.001149,1.001095,1.001227,1.001134,1.001081,1.001172,1.001108,1.001216,1.001089,1.001157,1.001193,1.001099,
  1.001124,1.001232,1.001084,1.001166,1.001112,1.001205,1.001093,1.001141,1.001186,1.001087,1.001221,1.001118,1.001079,1.001176,1.001103,
  1.001148,1.001212,1.001091,1.001129,1.001199,1.001085,1.001162];

// ---- tick labels ----
var theta12Ticks = [32, 33, 34, 35, 36, 37];
var theta23Ticks = [51.16, 51.18, 51.2, 51.22, 51.24];
var rhoTicksY = [6, 8];
var rhoTicksX = [6, 7, 8, 9];
var sigmaTicksY = [170, 172];
var sigmaTicksX = [169, 170, 171, 172];
var deltaTicksY = [264, 266, 268];
var deltaTicksX = [263, 264, 265, 266, 267, 268];
var jTicks = [-0.034, -0.032];
var meeTicks = [0.173, 0.174, 0.175];
var m2TicksY = [0.18, 0.181, 0.182];
var m2TicksX = [0.18, 0.1805, 0.181, 0.1815, 0.182];
var m3Ticks = [0.173, 0.1735, 0.174, 0.1745, 0.175, 0.1755];
var m21Ticks = [1.0011, 1.0012];
var m13Ticks = [1.0378, 1.038, 1.0382, 1.0384, 1.0386, 1.0388];

// axis titles (rich text: g = greek, b = bold roman, o = superscript, oz = stacked superscript, s = subscript)
var nTheta12 = '{g|θ}{oz|o}{s|12}';
var nTheta23 = '{g|θ}{oz|o}{s|23}';
var nRho = '{g|ρ}{o|o}';
var nSigma = '{g|σ}{o|o}';
var nDelta = '{g|δ}{o|o}';
var nJ = '{b|J}';
var nMee = '{b|m}{s|ee}{b|(eV)}';
var nM2eV = '{b|m}{s|2}{b|(eV)}';
var nM2 = '{b|m}{s|2}';
var nM3 = '{b|m}{s|3}{b| (eV)}';
var nM21 = '{b|m}{s|21}';
var nM13 = '{b|m}{s|13}';

var sans = '"Liberation Sans", Arial, Helvetica, sans-serif';
var serif = '"Liberation Serif", "DejaVu Serif", serif';

var richName = {
  g: { fontFamily: serif, fontWeight: 'normal', fontSize: 18, lineHeight: 26, color: '#000' },
  b: { fontFamily: sans, fontWeight: 'bold', fontSize: 15, lineHeight: 22, color: '#000' },
  o: { fontFamily: sans, fontWeight: 'bold', fontSize: 11, lineHeight: 12, verticalAlign: 'top', color: '#000' },
  oz: { fontFamily: sans, fontWeight: 'bold', fontSize: 11, lineHeight: 12, verticalAlign: 'top', width: 1, color: '#000' },
  s: { fontFamily: sans, fontWeight: 'bold', fontSize: 11, lineHeight: 12, verticalAlign: 'bottom', color: '#000' }
};

var colLeft = [169, 506, 843];
var rowTop = [65, 215, 365, 515, 666];
var boxW = 236, boxH = 74;

var panels = [
  { x: theta12.concat(theta12b), y: rhoA.concat(rhoAb),     xr: [31.4, 37.43], yr: [5.7, 9.46],     xt: theta12Ticks, yt: rhoTicksY,   xn: nTheta12, yn: nRho,   gap: 18 },
  { x: theta12.concat(theta12b), y: sigmaA.concat(sigmaAb), xr: [31.4, 37.43], yr: [167.95, 172.9], xt: theta12Ticks, yt: sigmaTicksY, xn: nTheta12, yn: nSigma, gap: 33 },
  { x: theta12.concat(theta12b), y: deltaA.concat(deltaAb), xr: [31.4, 37.43], yr: [262.8, 268.72], xt: theta12Ticks, yt: deltaTicksY, xn: nTheta12, yn: nDelta, gap: 37 },
  { x: theta23.concat(theta23b), y: rhoB.concat(rhoBb),     xr: [51.1577, 51.25], yr: [5.7, 9.46],     xt: theta23Ticks, yt: rhoTicksY,   xn: nTheta23, yn: nRho,   gap: 19 },
  { x: theta23.concat(theta23b), y: sigmaB.concat(sigmaBb), xr: [51.1577, 51.25], yr: [167.95, 172.9], xt: theta23Ticks, yt: sigmaTicksY, xn: nTheta23, yn: nSigma, gap: 33 },
  { x: theta23.concat(theta23b), y: deltaB.concat(deltaBb), xr: [51.1577, 51.25], yr: [262.8, 268.72], xt: theta23Ticks, yt: deltaTicksY, xn: nTheta23, yn: nDelta, gap: 37 },
  { x: rhoD.concat(rhoDb),     y: sigmaD.concat(sigmaDb), xr: [5.7, 9.41],   yr: [168.1, 172.93],  xt: rhoTicksX,   yt: sigmaTicksY, xn: nRho,   yn: nSigma, gap: 33 },
  { x: rhoD.concat(rhoDb),     y: deltaD.concat(deltaDb), xr: [5.68, 9.42],  yr: [262.78, 268.72], xt: rhoTicksX,   yt: deltaTicksY, xn: nRho,   yn: nDelta, gap: 33 },
  { x: sigmaE.concat(sigmaEb), y: deltaE.concat(deltaEb), xr: [168, 172.88], yr: [262.8, 268.72],  xt: sigmaTicksX, yt: deltaTicksY, xn: nSigma, yn: nDelta, gap: 37 },
  { x: deltaC.concat(deltaCb), y: jC.concat(jCb),     xr: [262.73, 268.57], yr: [-0.03508, -0.03003], xt: deltaTicksX, yt: jTicks,   xn: nDelta, yn: nJ,    gap: 55 },
  { x: deltaC.concat(deltaCb), y: meeC.concat(meeCb), xr: [262.73, 268.57], yr: [0.17269, 0.1755],    xt: deltaTicksX, yt: meeTicks, xn: nDelta, yn: nMee,  gap: 50 },
  { x: deltaC.concat(deltaCb), y: m2C.concat(m2Cb),   xr: [262.73, 268.57], yr: [0.17972, 0.18247],   xt: deltaTicksX, yt: m2TicksY, xn: nDelta, yn: nM2eV, gap: 49 },
  { x: m2F.concat(m2Fb),       y: meeF.concat(meeFb), xr: [0.17972, 0.18242], yr: [0.17269, 0.17549], xt: m2TicksX,  yt: meeTicks,   xn: nM2,    yn: nMee,  gap: 53 },
  { x: m3G.concat(m3Gb),       y: m21G.concat(m21Gb), xr: [0.17282, 0.17552], yr: [1.001077, 1.001243], xt: m3Ticks, yt: m21Ticks,  xn: nM3,    yn: nM21,  gap: 58 },
  { x: theta23.concat(theta23b), y: m13B.concat(m13Bb), xr: [51.1577, 51.25], yr: [1.03769, 1.03884], xt: theta23Ticks, yt: m13Ticks, xn: nTheta23, yn: nM13, gap: 57, crowdedY: true }
];

function pairs(xs, ys) {
  var out = [];
  var n = Math.min(xs.length, ys.length);
  for (var k = 0; k < n; k++) out.push([xs[k], ys[k]]);
  return out;
}

// every other tick label, so crowded labels are all drawn (they overlap in the original too)
function everyOther(arr, start) {
  return arr.filter(function (v, k) { return k % 2 === start; });
}

function makeAxis(dim, i, range, ticks, pos, name, gap, labelValues) {
  var showLabels = !!labelValues;
  return {
    type: 'value',
    gridIndex: i,
    position: pos,
    min: range[0],
    max: range[1],
    splitLine: { show: false },
    axisLine: { show: false },
    axisTick: { show: !!ticks, inside: true, length: 4, customValues: ticks || [],
                lineStyle: { color: '#000', width: 1.5 } },
    axisLabel: showLabels ? { show: true, customValues: labelValues, showMinLabel: true, showMaxLabel: true,
                              hideOverlap: false, color: '#000', fontFamily: sans,
                              fontWeight: 'bold', fontSize: 14, margin: dim === 'x' ? 9 : 6 }
                          : { show: false },
    name: name || '',
    nameLocation: 'middle',
    nameGap: gap || 0,
    nameRotate: dim === 'y' ? 90 : 0,
    nameMoveOverlap: false,
    nameTextStyle: { rich: richName, color: '#000', fontFamily: sans, fontWeight: 'bold', fontSize: 15 }
  };
}

var grids = [], xAxes = [], yAxes = [], series = [];
panels.forEach(function (p, i) {
  var col = i % 3, row = Math.floor(i / 3);
  grids.push({
    left: colLeft[col], top: rowTop[row], width: boxW, height: boxH,
    show: true, borderColor: '#000', borderWidth: 2.5, backgroundColor: '#fff',
    containLabel: false, outerBoundsMode: 'none'
  });
  var xi = xAxes.length, yi = yAxes.length;
  xAxes.push(makeAxis('x', i, p.xr, p.xt, 'bottom', p.xn, 31, p.xt));
  xAxes.push(makeAxis('x', i, p.xr, p.xt, 'top'));
  if (p.crowdedY) {
    yAxes.push(makeAxis('y', i, p.yr, p.yt, 'left', p.yn, p.gap, everyOther(p.yt, 0)));
    yAxes.push(makeAxis('y', i, p.yr, null, 'left', '', 0, everyOther(p.yt, 1)));
  } else {
    yAxes.push(makeAxis('y', i, p.yr, p.yt, 'left', p.yn, p.gap, p.yt));
  }
  yAxes.push(makeAxis('y', i, p.yr, p.yt, 'right'));
  series.push({
    type: 'scatter',
    xAxisIndex: xi,
    yAxisIndex: yi,
    data: pairs(p.x, p.y),
    symbol: 'circle',
    symbolSize: 2.2,
    itemStyle: { color: '#0000ff', opacity: 0.72 },
    silent: true,
    clip: true
  });
});

var chart = echarts.init(document.getElementById('chart'), null, { renderer: 'canvas' });
chart.setOption({
  backgroundColor: '#fff',
  animation: false,
  grid: grids,
  xAxis: xAxes,
  yAxis: yAxes,
  series: series
});
</script>
</body>
</html>
